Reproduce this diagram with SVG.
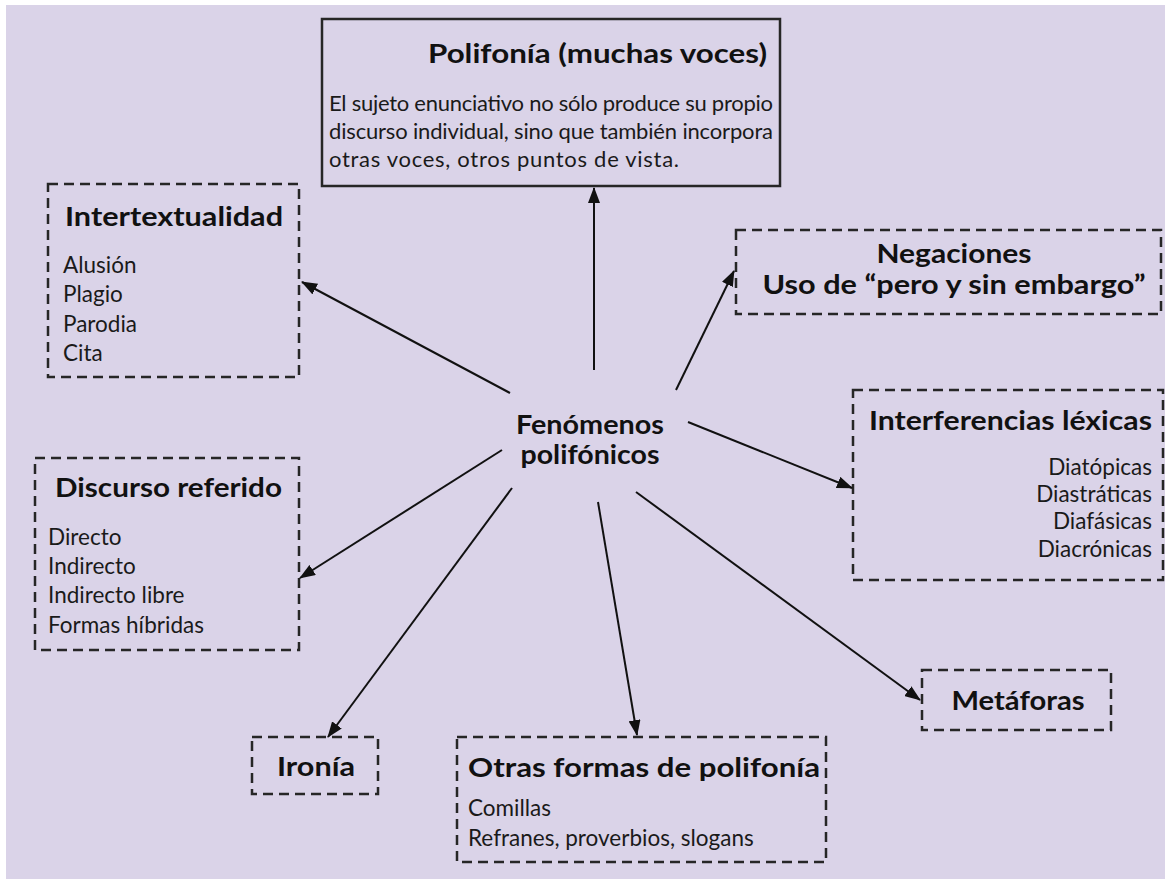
<svg xmlns="http://www.w3.org/2000/svg" width="1167" height="879" viewBox="0 0 1167 879">
<defs>
<marker id="ah" markerUnits="userSpaceOnUse" markerWidth="16" markerHeight="12" refX="15" refY="6" orient="auto">
<path d="M0,0 L16,6 L0,12 z" fill="#111"/>
</marker>
<style>
.box{fill:none;stroke:#262626;stroke-width:2.5;stroke-dasharray:10 6}
.solid{fill:none;stroke:#262626;stroke-width:2.5}
.t{font-family:Lato,"Liberation Sans",sans-serif;font-weight:bold;fill:#111}
.i{font-family:Lato,"Liberation Sans",sans-serif;font-size:22.5px;fill:#1a1a1a}
.b{font-family:Lato,"Liberation Sans",sans-serif;font-size:22px;fill:#1a1a1a}
.c line{stroke:#111;stroke-width:2;marker-end:url(#ah)}
</style>
</defs>
<rect x="0" y="0" width="1167" height="879" fill="#ffffff"/>
<rect x="6" y="5" width="1159" height="874" fill="#dad3e8"/>

<g id="polifonia">
<rect class="solid" x="322" y="19" width="458" height="167"/>
<text class="t" x="428" y="63" font-size="27" textLength="339" lengthAdjust="spacingAndGlyphs">Polifonía (muchas voces)</text>
<text class="b" x="329" y="111" textLength="444" lengthAdjust="spacing">El sujeto enunciativo no sólo produce su propio</text>
<text class="b" x="329" y="139" textLength="444" lengthAdjust="spacing">discurso individual, sino que también incorpora</text>
<text class="b" x="329" y="167" textLength="350" lengthAdjust="spacing">otras voces, otros puntos de vista.</text>
</g>

<g id="intertextualidad">
<rect class="box" x="48" y="184" width="251" height="193"/>
<text class="t" x="65" y="226" font-size="26" textLength="218" lengthAdjust="spacingAndGlyphs">Intertextualidad</text>
<text class="i" x="63" y="273">Alusión</text>
<text class="i" x="63" y="302">Plagio</text>
<text class="i" x="63" y="332">Parodia</text>
<text class="i" x="63" y="361">Cita</text>
</g>

<g id="negaciones">
<rect class="box" x="736" y="230" width="425" height="84"/>
<text class="t" x="954" y="263" font-size="26" text-anchor="middle" textLength="155" lengthAdjust="spacingAndGlyphs">Negaciones</text>
<text class="t" x="954" y="294" font-size="26" text-anchor="middle" textLength="383" lengthAdjust="spacingAndGlyphs">Uso de “pero y sin embargo”</text>
</g>

<g id="fenomenos">
<text class="t" x="590" y="434" font-size="26" text-anchor="middle" textLength="148" lengthAdjust="spacingAndGlyphs">Fenómenos</text>
<text class="t" x="590" y="464" font-size="26" text-anchor="middle" textLength="139" lengthAdjust="spacingAndGlyphs">polifónicos</text>
</g>

<g id="interferencias">
<rect class="box" x="853" y="390" width="310" height="190"/>
<text class="t" x="1152" y="430" font-size="26" text-anchor="end" textLength="283" lengthAdjust="spacingAndGlyphs">Interferencias léxicas</text>
<text class="i" x="1152" y="475" text-anchor="end">Diatópicas</text>
<text class="i" x="1152" y="502" text-anchor="end">Diastráticas</text>
<text class="i" x="1152" y="529" text-anchor="end">Diafásicas</text>
<text class="i" x="1152" y="557" text-anchor="end">Diacrónicas</text>
</g>

<g id="discurso">
<rect class="box" x="35" y="458" width="264" height="192"/>
<text class="t" x="55" y="497" font-size="26" textLength="227" lengthAdjust="spacingAndGlyphs">Discurso referido</text>
<text class="i" x="48" y="545">Directo</text>
<text class="i" x="48" y="574">Indirecto</text>
<text class="i" x="48" y="603">Indirecto libre</text>
<text class="i" x="48" y="633">Formas híbridas</text>
</g>

<g id="ironia">
<rect class="box" x="252" y="737" width="126" height="57"/>
<text class="t" x="316" y="776" font-size="26" text-anchor="middle" textLength="78" lengthAdjust="spacingAndGlyphs">Ironía</text>
</g>

<g id="otras">
<rect class="box" x="457" y="737" width="369" height="125"/>
<text class="t" x="468" y="777" font-size="26" textLength="352" lengthAdjust="spacingAndGlyphs">Otras formas de polifonía</text>
<text class="i" x="468" y="816">Comillas</text>
<text class="i" x="468" y="846">Refranes, proverbios, slogans</text>
</g>

<g id="metaforas">
<rect class="box" x="922" y="670" width="189" height="60"/>
<text class="t" x="1018" y="710" font-size="26" text-anchor="middle" textLength="133" lengthAdjust="spacingAndGlyphs">Metáforas</text>
</g>

<g id="connectors" class="c">
<line x1="594" y1="370" x2="594" y2="188"/>
<line x1="510" y1="393" x2="302" y2="282"/>
<line x1="676" y1="390" x2="734" y2="271"/>
<line x1="688" y1="422" x2="852" y2="488"/>
<line x1="502" y1="450" x2="300" y2="578"/>
<line x1="512" y1="488" x2="328" y2="737"/>
<line x1="598" y1="502" x2="637" y2="735"/>
<line x1="636" y1="492" x2="920" y2="700"/>
</g>
</svg>
